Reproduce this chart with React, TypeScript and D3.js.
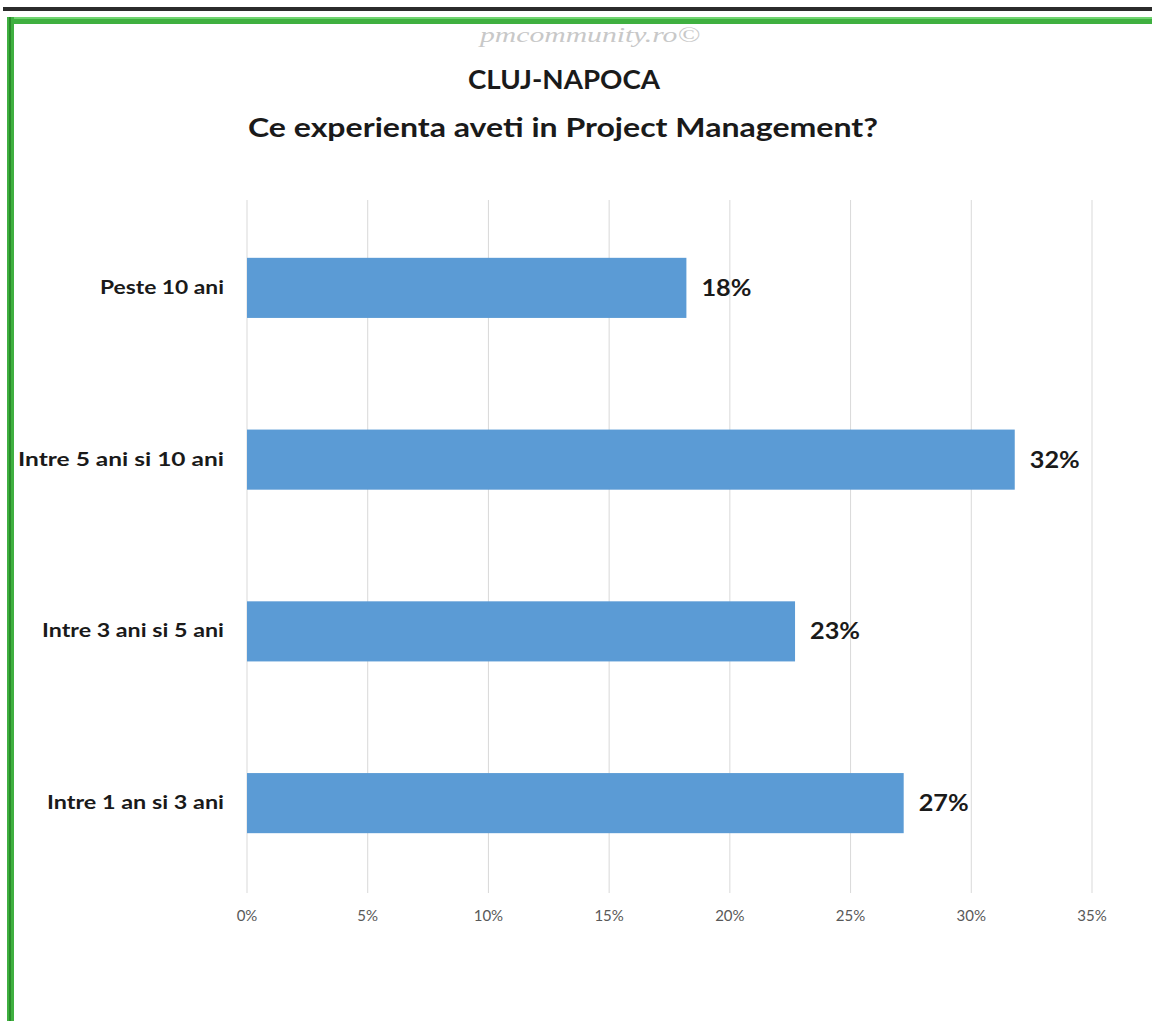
import React from "react";
import * as d3 from "d3";

const categories = ["Peste 10 ani", "Intre 5 ani si 10 ani", "Intre 3 ani si 5 ani", "Intre 1 an si 3 ani"];
const values = [18.2, 31.8, 22.7, 27.2];
const valueLabels = ["18%", "32%", "23%", "27%"];
const ticks = [0, 5, 10, 15, 20, 25, 30, 35];

const W = 1152;
const H = 1021;

export default function App() {
  const x = d3.scaleLinear().domain([0, 35]).range([247, 1092]);
  const y = d3.scaleBand<string>().domain(categories).range([202, 889]).paddingInner(0.65).paddingOuter(0.325);
  const font = "Lato, 'Open Sans', sans-serif";
  const labelWidths: Record<string, number> = {
    "Peste 10 ani": 124,
    "Intre 5 ani si 10 ani": 206,
    "Intre 3 ani si 5 ani": 182,
    "Intre 1 an si 3 ani": 177,
  };
  return (
    <svg width={W} height={H} style={{ position: "absolute", left: 0, top: 0, background: "#fff" }} fontFamily={font}>
      <rect x={3} y={7} width={W - 3} height={4} fill="#2b2b2b" />
      <rect x={7} y={17} width={W - 7} height={7} fill="#3fb040" />
      <rect x={7} y={17} width={W - 7} height={2} fill="#6fd36f" />
      <rect x={7} y={17} width={7} height={H - 17} fill="#3fb040" />
      <rect x={9} y={17} width={2} height={H - 17} fill="#2a8a2a" />
      <text x={480} y={42} fontSize={22} fontStyle="italic" fill="#c8c8c8" fontFamily="'Liberation Serif', serif" textLength={220} lengthAdjust="spacingAndGlyphs">pmcommunity.ro©</text>
      <text x={564} y={89} textAnchor="middle" fontSize={26} fontWeight="bold" fill="#1a1a1a" textLength={192} lengthAdjust="spacingAndGlyphs">CLUJ-NAPOCA</text>
      <text x={563} y={137} textAnchor="middle" fontSize={27} fontWeight="bold" fill="#1a1a1a" textLength={630} lengthAdjust="spacingAndGlyphs">Ce experienta aveti in Project Management?</text>
      {ticks.map((t) => (
        <g key={t}>
          <line x1={x(t)} x2={x(t)} y1={200} y2={893} stroke="#d9d9d9" strokeWidth={1} />
          <text x={x(t)} y={921} textAnchor="middle" fontSize={15} fill="#595959">{t}%</text>
        </g>
      ))}
      {categories.map((c, i) => (
        <g key={c}>
          <rect x={x(0)} y={y(c)!} width={x(values[i]) - x(0)} height={y.bandwidth()} fill="#5b9bd5" />
          <text x={224} y={y(c)! + y.bandwidth() / 2 + 6} textAnchor="end" fontSize={18} fontWeight="bold" fill="#1a1a1a" textLength={labelWidths[c]} lengthAdjust="spacingAndGlyphs">{c}</text>
          <text x={x(values[i]) + 15} y={y(c)! + y.bandwidth() / 2 + 8} fontSize={22} fontWeight="bold" fill="#1a1a1a" textLength={50} lengthAdjust="spacingAndGlyphs">{valueLabels[i]}</text>
        </g>
      ))}
    </svg>
  );
}
